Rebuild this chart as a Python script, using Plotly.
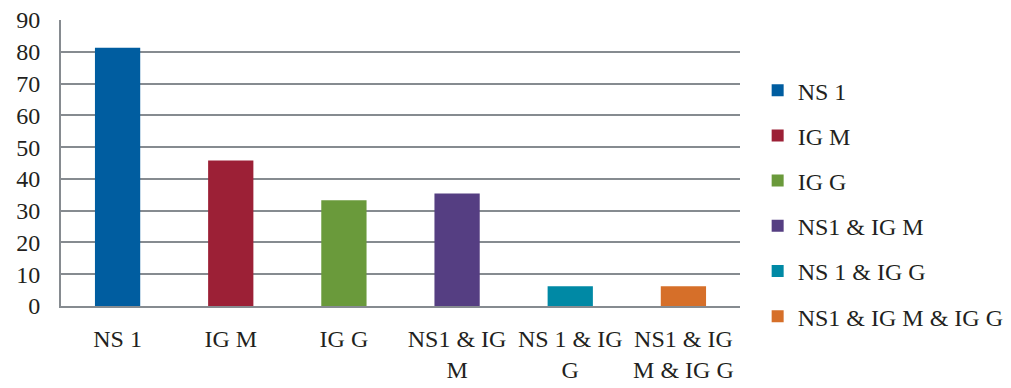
import plotly.graph_objects as go

# Share of positive samples per diagnostic marker combination (%)
categories = ["NS 1", "IG M", "IG G", "NS1 & IG M", "NS 1 & IG G", "NS1 & IG M & IG G"]
tick_labels = ["NS 1", "IG M", "IG G", "NS1 & IG<br>M", "NS 1 & IG<br>G", "NS1 & IG<br>M & IG G"]
values = [81.25, 45.8, 33.3, 35.4, 6.25, 6.25]
colors = ["#005DA0", "#9C2036", "#6A9A3B", "#553E82", "#0089A5", "#D66F29"]

FONT = "Liberation Serif"
GRID = "#868B90"

fig = go.Figure()
for i, (cat, val, col) in enumerate(zip(categories, values, colors)):
    fig.add_trace(go.Bar(
        x=[cat], y=[val], name=cat, marker=dict(color=col, line=dict(width=0)),
        width=0.4, legendgroup=f"g{i}",
    ))

fig.update_layout(
    width=1011, height=388,
    margin=dict(l=61, r=271, t=20, b=82, autoexpand=False),
    paper_bgcolor="white", plot_bgcolor="white",
    barmode="overlay",
    font=dict(family=FONT, size=24, color="#231F20"),
    showlegend=True,
    legend=dict(
        x=1.026, xanchor="left", y=0.358, yanchor="middle",
        font=dict(family=FONT, size=24, color="#231F20"),
        tracegroupgap=11, itemwidth=30, maxheight=388,
    ),
    xaxis=dict(
        type="category", categoryorder="array", categoryarray=categories,
        tickvals=categories, ticktext=tick_labels,
        showgrid=False, showline=True, linecolor=GRID, linewidth=2,
        ticks="", range=[-0.5, 5.5], ticklabelstandoff=10, automargin=False,
    ),
    yaxis=dict(
        range=[0, 90], dtick=10, showgrid=True, gridcolor=GRID, gridwidth=2,
        showline=True, linecolor=GRID, linewidth=2, ticks="",
        ticklabelstandoff=14, zeroline=False, automargin=False,
    ),
)

fig.write_html("out.html")
